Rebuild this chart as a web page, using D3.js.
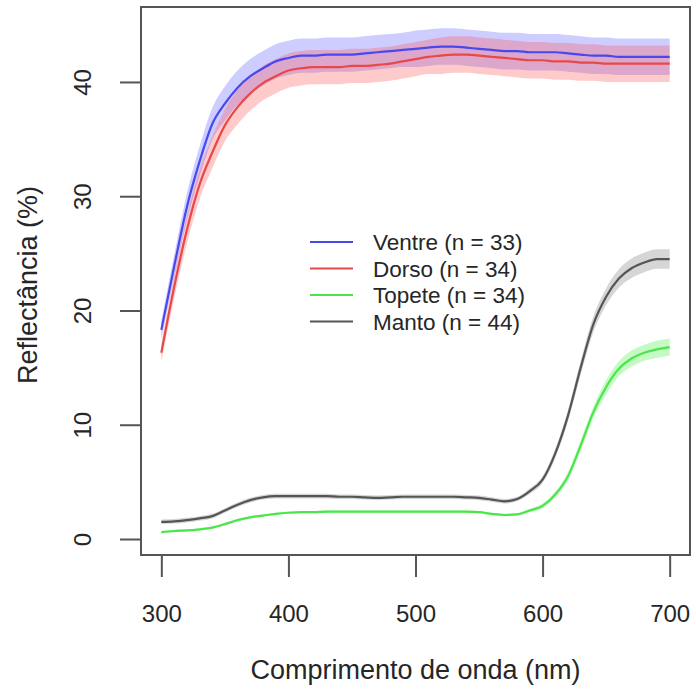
<!DOCTYPE html>
<html>
<head>
<meta charset="utf-8">
<script src="https://cdn.jsdelivr.net/npm/d3@7"></script>
<style>
  body { margin: 0; background: #fff; }
  svg text { font-family: "Liberation Sans", Arial, sans-serif; fill: #262626; }
</style>
</head>
<body>
<div id="chart"></div>
<script>
var svgWidth = 696;
var svgHeight = 693;

var margin = { top: 7, right: 6, bottom: 138, left: 141 };
var chartWidth = svgWidth - margin.left - margin.right;
var chartHeight = svgHeight - margin.top - margin.bottom;

// wavelength grid (nm)
var wavelengths = [300, 310, 320, 330, 340, 350, 360, 370, 380, 390, 400,
    410, 420, 430, 440, 450, 460, 470, 480, 490, 500,
    510, 520, 530, 540, 550, 560, 570, 580, 590, 600,
    610, 620, 630, 640, 650, 660, 670, 680, 690, 700];

var ventreMean = [18.3, 23.8, 29.0, 33.0, 36.3, 38.1, 39.5, 40.5, 41.2, 41.8, 42.1,
    42.3, 42.3, 42.4, 42.4, 42.4, 42.5, 42.6, 42.7, 42.8, 42.9,
    43.0, 43.1, 43.1, 43.0, 42.9, 42.8, 42.7, 42.7, 42.6, 42.6,
    42.6, 42.5, 42.4, 42.3, 42.3, 42.2, 42.2, 42.2, 42.2, 42.2];
var ventreSE = [0.8, 1.0, 1.2, 1.3, 1.4, 1.5, 1.5, 1.5, 1.5, 1.5, 1.5,
    1.5, 1.5, 1.5, 1.5, 1.5, 1.5, 1.5, 1.5, 1.5, 1.6,
    1.6, 1.6, 1.6, 1.6, 1.6, 1.6, 1.6, 1.6, 1.6, 1.6,
    1.6, 1.6, 1.6, 1.6, 1.6, 1.6, 1.6, 1.6, 1.6, 1.6];

var dorsoMean = [16.3, 22.0, 27.0, 31.0, 33.8, 36.2, 37.8, 39.0, 39.9, 40.5, 41.0,
    41.2, 41.3, 41.3, 41.3, 41.4, 41.4, 41.5, 41.6, 41.8, 42.0,
    42.2, 42.3, 42.4, 42.4, 42.3, 42.2, 42.1, 42.0, 41.9, 41.9,
    41.8, 41.8, 41.7, 41.7, 41.6, 41.6, 41.6, 41.6, 41.6, 41.6];
var dorsoSE = [0.8, 1.0, 1.2, 1.3, 1.4, 1.4, 1.5, 1.5, 1.5, 1.5, 1.5,
    1.5, 1.5, 1.5, 1.5, 1.5, 1.5, 1.5, 1.5, 1.5, 1.5,
    1.5, 1.6, 1.6, 1.6, 1.6, 1.6, 1.6, 1.6, 1.6, 1.6,
    1.6, 1.6, 1.6, 1.6, 1.6, 1.6, 1.6, 1.6, 1.6, 1.6];

var topeteMean = [0.6, 0.7, 0.75, 0.85, 1.0, 1.3, 1.65, 1.9, 2.05, 2.2, 2.3,
    2.35, 2.35, 2.4, 2.4, 2.4, 2.4, 2.4, 2.4, 2.4, 2.4,
    2.4, 2.4, 2.4, 2.4, 2.35, 2.2, 2.1, 2.15, 2.5, 2.9,
    3.9, 5.5, 8.2, 11.1, 13.3, 14.9, 15.8, 16.3, 16.6, 16.8];
var topeteSE = [0.1, 0.1, 0.1, 0.1, 0.1, 0.1, 0.1, 0.1, 0.1, 0.1, 0.1,
    0.1, 0.1, 0.1, 0.1, 0.1, 0.1, 0.1, 0.1, 0.1, 0.1,
    0.1, 0.1, 0.1, 0.1, 0.1, 0.1, 0.1, 0.1, 0.15, 0.2,
    0.25, 0.35, 0.45, 0.5, 0.6, 0.65, 0.7, 0.7, 0.75, 0.75];

var mantoMean = [1.5, 1.55, 1.65, 1.8, 2.0, 2.5, 3.0, 3.4, 3.65, 3.75, 3.75,
    3.75, 3.75, 3.75, 3.7, 3.7, 3.65, 3.6, 3.65, 3.7, 3.7,
    3.7, 3.7, 3.7, 3.65, 3.6, 3.45, 3.3, 3.5, 4.2, 5.2,
    7.5, 10.8, 15.0, 18.8, 21.2, 22.8, 23.7, 24.2, 24.5, 24.5];
var mantoSE = [0.2, 0.2, 0.2, 0.2, 0.2, 0.2, 0.2, 0.2, 0.2, 0.2, 0.2,
    0.2, 0.2, 0.2, 0.2, 0.2, 0.2, 0.2, 0.2, 0.2, 0.2,
    0.2, 0.2, 0.2, 0.2, 0.2, 0.2, 0.2, 0.2, 0.25, 0.3,
    0.4, 0.5, 0.6, 0.7, 0.75, 0.8, 0.85, 0.85, 0.85, 0.85];

var seriesNames = ["Ventre (n = 33)", "Dorso (n = 34)", "Topete (n = 34)", "Manto (n = 44)"];
var seriesColors = ["#4848ee", "#e84848", "#4ce64c", "#555555"];
var seriesFills = ["rgba(90,90,255,0.3)", "rgba(255,80,80,0.3)", "rgba(60,240,60,0.3)", "rgba(120,120,120,0.3)"];
var seriesMeans = [ventreMean, dorsoMean, topeteMean, mantoMean];
var seriesSE = [ventreSE, dorsoSE, topeteSE, mantoSE];

var xTicks = [300, 400, 500, 600, 700];
var yTicks = [0, 10, 20, 30, 40];

var svg = d3.select("#chart")
    .append("svg")
    .attr("width", svgWidth)
    .attr("height", svgHeight);

var chartGroup = svg.append("g")
    .attr("transform", `translate(${margin.left}, ${margin.top})`);

var xScale = d3.scaleLinear()
    .domain([284, 716])
    .range([0, chartWidth]);

var yScale = d3.scaleLinear()
    .domain([-1.4, 46.56])
    .range([chartHeight, 0]);

var series = seriesNames.map(function(name, i) {
    return {
        name: name,
        color: seriesColors[i],
        fill: seriesFills[i],
        values: wavelengths.map(function(w, j) {
            return { w: w, m: seriesMeans[i][j], se: seriesSE[i][j] };
        })
    };
});

var area = d3.area()
    .curve(d3.curveMonotoneX)
    .x(d => xScale(d.w))
    .y0(d => yScale(d.m - d.se))
    .y1(d => yScale(d.m + d.se));

var line = d3.line()
    .curve(d3.curveMonotoneX)
    .x(d => xScale(d.w))
    .y(d => yScale(d.m));

chartGroup.selectAll(".band")
    .data(series)
    .enter()
    .append("path")
    .attr("class", "band")
    .attr("d", d => area(d.values))
    .attr("fill", d => d.fill)
    .attr("stroke", "none");

chartGroup.selectAll(".mean")
    .data(series)
    .enter()
    .append("path")
    .attr("class", "mean")
    .attr("d", d => line(d.values))
    .attr("fill", "none")
    .attr("stroke", d => d.color)
    .attr("stroke-width", 2.2);

// box
chartGroup.append("rect")
    .attr("x", 0)
    .attr("y", 0)
    .attr("width", chartWidth)
    .attr("height", chartHeight)
    .attr("fill", "none")
    .attr("stroke", "#555")
    .attr("stroke-width", 2);

// x axis
var bottomAxis = d3.axisBottom(xScale)
    .tickValues(xTicks)
    .tickSize(22)
    .tickPadding(28)
    .tickSizeOuter(0);

var xAxisG = chartGroup.append("g")
    .attr("transform", `translate(0, ${chartHeight})`)
    .call(bottomAxis);
xAxisG.select(".domain").remove();
xAxisG.selectAll(".tick line").attr("stroke", "#555").attr("stroke-width", 2);
xAxisG.selectAll(".tick text")
    .attr("font-size", "24px")
    .attr("font-family", "Liberation Sans, Arial, sans-serif")
    .attr("fill", "#262626");

// y axis
var leftAxis = d3.axisLeft(yScale)
    .tickValues(yTicks)
    .tickSize(21)
    .tickSizeOuter(0);

var yAxisG = chartGroup.append("g").call(leftAxis);
yAxisG.select(".domain").remove();
yAxisG.selectAll(".tick line").attr("stroke", "#555").attr("stroke-width", 2);
yAxisG.selectAll(".tick text")
    .attr("x", null)
    .attr("dy", null)
    .attr("transform", "translate(-50, 0) rotate(-90)")
    .attr("text-anchor", "middle")
    .attr("font-size", "24px")
    .attr("font-family", "Liberation Sans, Arial, sans-serif")
    .attr("fill", "#262626");

// axis titles
chartGroup.append("text")
    .attr("transform", `translate(${chartWidth / 2}, ${chartHeight + 124})`)
    .attr("text-anchor", "middle")
    .attr("font-size", "27px")
    .text("Comprimento de onda (nm)");

chartGroup.append("text")
    .attr("transform", `translate(${37 - margin.left}, ${chartHeight / 2 + 4}) rotate(-90)`)
    .attr("text-anchor", "middle")
    .attr("font-size", "27px")
    .text("Reflectância (%)");

// legend
var legend = svg.append("g")
    .attr("transform", "translate(310, 242)");

var legendRows = legend.selectAll(".row")
    .data(series)
    .enter()
    .append("g")
    .attr("class", "row")
    .attr("transform", (d, i) => `translate(0, ${i * 26.5})`);

legendRows.append("line")
    .attr("x1", 0)
    .attr("x2", 43)
    .attr("y1", 0)
    .attr("y2", 0)
    .attr("stroke", d => d.color)
    .attr("stroke-width", 2.2);

legendRows.append("text")
    .attr("x", 63)
    .attr("y", 8)
    .attr("font-size", "22.5px")
    .text(d => d.name);
</script>
</body>
</html>
